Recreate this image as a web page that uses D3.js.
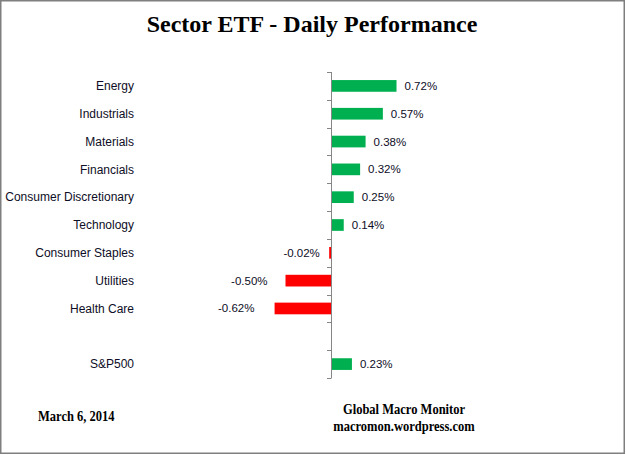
<!DOCTYPE html>
<html>
<head>
<meta charset="utf-8">
<script src="https://cdn.jsdelivr.net/npm/d3@7"></script>
<style>
  body { margin: 0; background: #fff; }
  svg text { font-family: "Liberation Sans", Arial, sans-serif; }
</style>
</head>
<body>
<svg id="chart"></svg>
<script>
// data
const sectors = ["Energy", "Industrials", "Materials", "Financials", "Consumer Discretionary",
  "Technology", "Consumer Staples", "Utilities", "Health Care", "", "S&P500"];
const changes = [0.72, 0.57, 0.38, 0.32, 0.25, 0.14, -0.02, -0.50, -0.62, null, 0.23];

const title = "Sector ETF - Daily Performance";
const dateLabel = "March 6, 2014";
const credits = ["Global Macro Monitor", "macromon.wordpress.com"];

const width = 626;
const height = 455;

const svg = d3.select("#chart").attr("width", width).attr("height", height);

// outer frame
svg.append("rect")
  .attr("x", 0.75).attr("y", 0.75)
  .attr("width", 623.5).attr("height", 452.5)
  .attr("fill", "none").attr("stroke", "#7f7f7f").attr("stroke-width", 1.5);

const data = sectors.map((s, i) => ({ name: s, value: changes[i], key: "c" + i }));

// 1% is about 91 px, axis sits at x=331
const xScale = d3.scaleLinear().domain([-1, 1]).range([240, 422]);
const yScale = d3.scaleBand()
  .domain(data.map((d) => d.key))
  .range([72, 378])
  .paddingInner(0.58)
  .paddingOuter(0.29);

// bars
svg.append("g")
  .selectAll("rect")
  .data(data.filter((d) => d.value !== null))
  .enter()
  .append("rect")
  .attr("x", (d) => xScale(Math.min(0, d.value)))
  .attr("y", (d) => yScale(d.key))
  .attr("width", (d) => Math.abs(xScale(d.value) - xScale(0)))
  .attr("height", yScale.bandwidth())
  .attr("fill", (d) => (d.value >= 0 ? "#00b050" : "#ff0000"));

// vertical category axis at zero, ticks between categories
const tickYs = d3.range(sectors.length + 1).map((i) => 72 + i * (306 / sectors.length));
const axis = svg.append("g").attr("stroke", "#868686").attr("stroke-width", 1);
axis.append("line")
  .attr("x1", xScale(0) + 0.5).attr("x2", xScale(0) + 0.5)
  .attr("y1", 72).attr("y2", 378);
axis.selectAll("line.tick")
  .data(tickYs)
  .enter()
  .append("line")
  .attr("class", "tick")
  .attr("x1", xScale(0) - 4).attr("x2", xScale(0) + 0.5)
  .attr("y1", (d) => Math.round(d) + 0.5).attr("y2", (d) => Math.round(d) + 0.5);

// category labels on the left
svg.append("g")
  .selectAll("text")
  .data(data)
  .enter()
  .append("text")
  .attr("x", 134)
  .attr("y", (d) => yScale(d.key) + yScale.bandwidth() / 2)
  .attr("dy", "0.35em")
  .attr("text-anchor", "end")
  .attr("font-size", 12)
  .attr("fill", "#0d0d26")
  .text((d) => d.name);

// value labels at the bar ends
svg.append("g")
  .selectAll("text")
  .data(data.filter((d) => d.value !== null))
  .enter()
  .append("text")
  .attr("x", (d) => (d.value >= 0 ? xScale(d.value) + 8 : xScale(d.value) - 9 - 18 * Math.abs(d.value)))
  .attr("y", (d) => yScale(d.key) + yScale.bandwidth() / 2)
  .attr("dy", "0.35em")
  .attr("text-anchor", (d) => (d.value >= 0 ? "start" : "end"))
  .attr("font-size", 11.5)
  .attr("fill", "#0d0d26")
  .text((d) => d.value.toFixed(2) + "%");

// title
svg.append("text")
  .attr("x", 312).attr("y", 32)
  .attr("text-anchor", "middle")
  .attr("font-size", 24)
  .attr("font-weight", "bold")
  .style("font-family", "'Liberation Serif', 'Times New Roman', serif")
  .text(title);

// footer, the original font is narrow so squeeze it horizontally
const sx = 0.87;
svg.append("text")
  .attr("transform", "scale(" + sx + ",1)")
  .attr("x", 38 / sx).attr("y", 421)
  .attr("font-size", 14.4)
  .attr("font-weight", "bold")
  .style("font-family", "'Liberation Serif', 'Times New Roman', serif")
  .text(dateLabel);

svg.append("g")
  .attr("transform", "scale(" + sx + ",1)")
  .selectAll("text")
  .data(credits)
  .enter()
  .append("text")
  .attr("x", 404 / sx)
  .attr("y", (d, i) => 414 + i * 17)
  .attr("text-anchor", "middle")
  .attr("font-size", 14.4)
  .attr("font-weight", "bold")
  .style("font-family", "'Liberation Serif', 'Times New Roman', serif")
  .text((d) => d);
</script>
</body>
</html>
